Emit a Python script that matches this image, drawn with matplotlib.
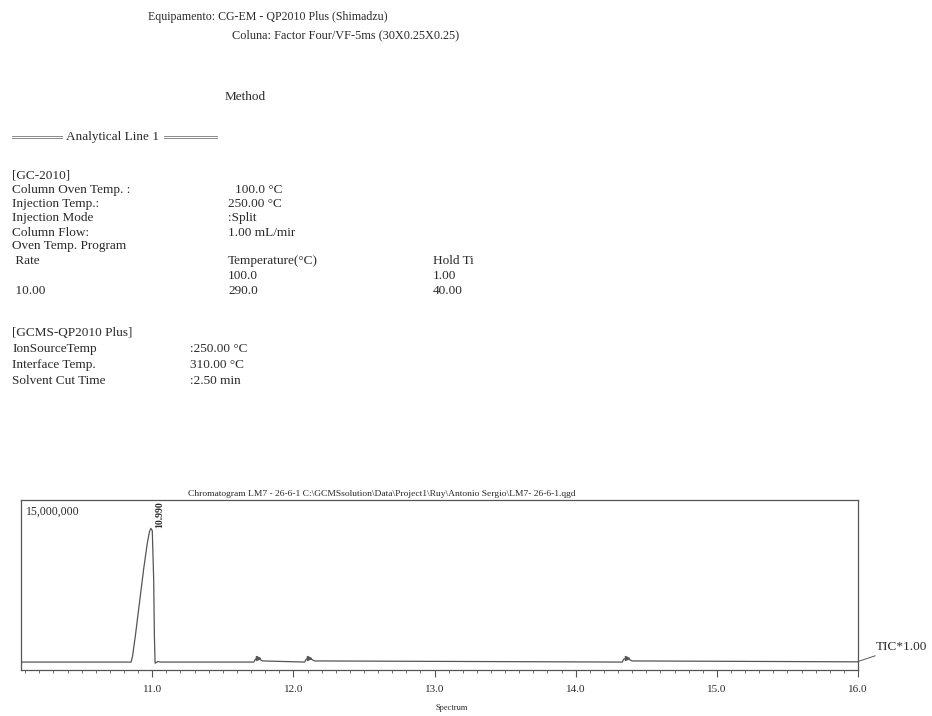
"""
GC-MS method sheet with the TIC chromatogram of sample LM7 (26-6-1).
"""

import matplotlib

matplotlib.use("Agg")
import matplotlib.pyplot as plt
from matplotlib.lines import Line2D

W, H = 932, 716
INK = "#2a2a2a"
LINE = "#555555"
BODY = 9.5

plt.rcParams["font.family"] = ["Liberation Serif", "DejaVu Serif"]

# ---------------------------------------------------------------------------
# method sheet (left column label, value columns)
# ---------------------------------------------------------------------------
gc_labels = ["Column Oven Temp. :", "Injection Temp.:", "Injection Mode", "Column Flow:"]
gc_values = ["100.0 °C", "250.00 °C", ":Split", "1.00 mL/mir"]

prog_header = [" Rate", "Temperature(°C)", "Hold Ti"]
prog_rows = [["", "100.0", "1.00"], [" 10.00", "290.0", "40.00"]]

ms_labels = ["IonSourceTemp", "Interface Temp.", "Solvent Cut Time"]
ms_values = [":250.00 °C", "310.00 °C", ":2.50 min"]

# ---------------------------------------------------------------------------
# TIC trace: retention time (min) and intensity (counts, x1e6)
# ---------------------------------------------------------------------------
rt = [10.07, 10.85, 10.86, 10.88, 10.91, 10.94, 10.965, 10.98, 10.99, 11.00,
      11.01, 11.015, 11.02, 11.04, 11.06, 11.72, 11.73, 11.75, 11.78, 12.08,
      12.09, 12.11, 12.15, 14.33, 14.34, 14.36, 14.40, 16.0]
tic = [0.70, 0.70, 1.2, 3.0, 6.0, 9.0, 11.2, 12.2, 12.5, 12.3,
       8.0, 3.0, 0.6, 0.75, 0.70, 0.70, 0.95, 1.05, 0.80, 0.70,
       0.95, 1.05, 0.80, 0.70, 0.95, 1.05, 0.80, 0.72]
tic = [v * 1e6 for v in tic]

minor_peaks = [11.75, 12.11, 14.36]
minor_heights = [1.05e6, 1.05e6, 1.05e6]
main_peak_rt = 10.99
main_peak_label = "10.990"

x_ticks = [11.0, 12.0, 13.0, 14.0, 15.0, 16.0]
x_ticklabels = ["11.0", "12.0", "13.0", "14.0", "15.0", "16.0"]
y_max = 15_000_000


def px(x, y):
    """pixel position -> figure fraction"""
    return x / W, 1 - y / H


def put(x, y, s, size=BODY, **kw):
    fig.text(*px(x, y), s, fontsize=size, color=INK, va="center", ha="left", **kw)


def rule(x0, x1, y):
    # thin double rule used around the section heading
    for dy in (-1.2, 1.2):
        (fx0, fy), (fx1, _) = px(x0, y + dy), px(x1, y + dy)
        fig.add_artist(Line2D([fx0, fx1], [fy, fy], color="#777777", lw=0.6))


fig = plt.figure(figsize=(W / 100, H / 100), dpi=100)

# header
put(148, 17, "Equipamento: CG-EM - QP2010 Plus (Shimadzu)", size=8.6)
put(232, 35, "Coluna: Factor Four/VF-5ms (30X0.25X0.25)", size=8.8)
put(225, 97, "Method", size=9.5)
rule(12, 62, 137)
put(66, 137, "Analytical Line 1")
rule(164, 217, 137)

# [GC-2010]
put(12, 176, "[GC-2010]")
for i, (lab, val) in enumerate(zip(gc_labels, gc_values)):
    y = 190 + i * 14.2
    put(12, y, lab)
    put(228 if i else 235, y, val)
put(12, 246, "Oven Temp. Program")
for j, row in enumerate([prog_header] + prog_rows):
    y = 261 + j * 15
    put(12, y, row[0])
    put(228, y, row[1])
    put(433, y, row[2])

# [GCMS-QP2010 Plus]
put(12, 333, "[GCMS-QP2010 Plus]")
for i, (lab, val) in enumerate(zip(ms_labels, ms_values)):
    y = 349 + i * 16
    put(12, y, lab)
    put(190, y, val)

# chromatogram
left, right, top, bottom = 21, 858, 500, 670
ax = fig.add_axes([left / W, 1 - bottom / H, (right - left) / W, (bottom - top) / H])
ax.plot(rt, tic, color=LINE, lw=0.9)
ax.plot(minor_peaks, minor_heights, ls="none", marker=">", ms=3, color=LINE)
ax.set_xlim(10.07, 16.0)
ax.set_ylim(0, y_max)
ax.set_yticks([])
ax.set_xticks(x_ticks)
ax.set_xticklabels(x_ticklabels)
ax.set_xticks([10.1 + 0.1 * k for k in range(59)], minor=True)
ax.tick_params(axis="x", which="major", length=5, width=0.8, color=LINE,
               labelsize=8, labelcolor=INK, pad=6)
ax.tick_params(axis="x", which="minor", length=2.5, width=0.6, color=LINE)
for sp in ax.spines.values():
    sp.set_color(LINE)
    sp.set_linewidth(0.9)

ax.text(0.006, 0.93, "{:,}".format(y_max), transform=ax.transAxes,
        fontsize=8.5, color=INK, va="center", ha="left")
ax.text(main_peak_rt + 0.06, y_max * 0.995, main_peak_label, rotation=90,
        fontsize=7, color=INK, va="top", ha="center", fontweight="bold")

ax.annotate("TIC*1.00", xy=(1.0, 0.05), xycoords="axes fraction",
            xytext=px(876, 647), textcoords="figure fraction",
            fontsize=9.5, color=INK, va="center", ha="left",
            arrowprops=dict(arrowstyle="-", color=LINE, lw=0.7,
                            shrinkA=0, shrinkB=0))

put(188, 494, "Chromatogram LM7 - 26-6-1 C:\\GCMSsolution\\Data\\Project1\\Ruy\\Antonio Sergio\\LM7- 26-6-1.qgd",
    size=6.8)
fig.text(*px(452, 708), "Spectrum", fontsize=6, color=INK, ha="center", va="center")

fig.savefig("out.png", dpi=100, facecolor="white")
